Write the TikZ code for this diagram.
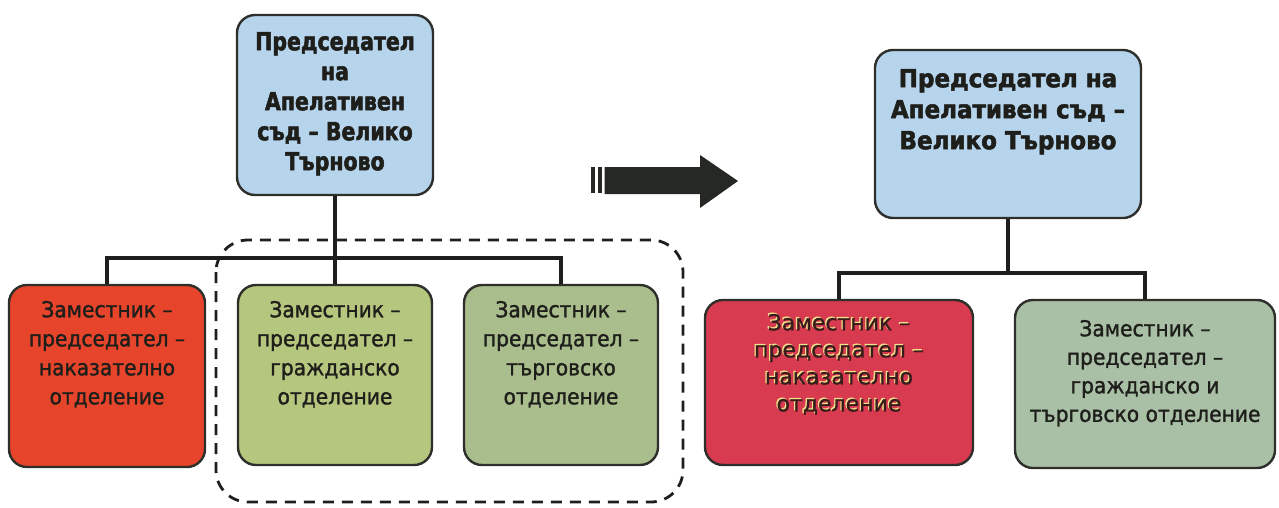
\documentclass[tikz,border=0pt]{standalone}
\usepackage{fontspec}
\setmainfont{DejaVu Sans}
\newfontfamily\topL[FakeStretch=0.82,FakeBold=2]{DejaVu Sans Bold}
\newfontfamily\topR[FakeStretch=0.92,FakeBold=2]{DejaVu Sans Bold}
\newfontfamily\kidL[FakeStretch=0.92,FakeBold=1.3]{DejaVu Sans}
\newfontfamily\kidR[FakeStretch=1.0,FakeBold=1.3]{DejaVu Sans}
\definecolor{boxline}{HTML}{2E2E2A}
\definecolor{connc}{HTML}{1E1F1C}
\definecolor{topblue}{HTML}{B6D4EC}
\definecolor{lred}{HTML}{E6452C}
\definecolor{lgreenA}{HTML}{B5C67E}
\definecolor{lgreenB}{HTML}{A9BE8C}
\definecolor{rred}{HTML}{D83A4F}
\definecolor{rgreen}{HTML}{A9C0A7}
\definecolor{arrowc}{HTML}{262823}
\definecolor{txtc}{HTML}{1E1E1A}
\definecolor{glowc}{HTML}{F2E08A}
\definecolor{redtxt}{HTML}{3A1C1C}
\begin{document}
\begin{tikzpicture}[x=1pt,y=-1pt,
  box/.style={draw=boxline, line width=2.4pt, rounded corners=18pt, inner sep=0pt},
  conn/.style={line width=4.5pt, draw=connc},
  toptxt/.style={font=\fontsize{25}{30}\topL, align=center, inner sep=0pt, anchor=north, text=txtc},
  toptxtR/.style={font=\fontsize{25}{31}\topR, align=center, inner sep=0pt, anchor=north, text=txtc},
  kidtxt/.style={font=\fontsize{22}{29}\kidL, align=center, inner sep=0pt, anchor=north, text=txtc},
  kidtxtR/.style={font=\fontsize{22}{28.5}\kidL, align=center, inner sep=0pt, anchor=north, text=txtc},
  redtxtS/.style={font=\fontsize{22}{27}\kidR, align=center, inner sep=0pt, anchor=north}]
\useasboundingbox (0,0) rectangle (1279,507);

% left chart
\node[box, fill=topblue, minimum width=196pt, minimum height=180pt] (lt) at (335,105) {};
\node[box, fill=lred, minimum width=196pt, minimum height=182pt] (lr) at (107,376) {};
\node[box, fill=lgreenA, minimum width=194pt, minimum height=180pt] (lga) at (335,375) {};
\node[box, fill=lgreenB, minimum width=194pt, minimum height=180pt] (lgb) at (561,375) {};

\node[toptxt] (ltt) at ([yshift=-18pt]lt.north) {Председател\\на\\Апелативен\\съд – Велико\\Търново};
\node[kidtxt] (lrt) at ([yshift=-17pt]lr.north) {Заместник –\\председател –\\наказателно\\отделение};
\node[kidtxt] (lgat) at ([yshift=-17pt]lga.north) {Заместник –\\председател –\\гражданско\\отделение};
\node[kidtxt] (lgbt) at ([yshift=-17pt]lgb.north) {Заместник –\\председател –\\търговско\\отделение};

\coordinate (lbus) at (335,258);
\draw[conn] (lt.south) -- (lbus);
\draw[conn] (lr.north) |- (lbus) -| (lgb.north);
\draw[conn] (lbus) -- (lga.north);

\draw[line width=2.8pt, draw=connc, dash pattern=on 11pt off 8pt, rounded corners=32pt]
  (216,240) rectangle (683,502);

% arrow
\fill[arrowc] (590.5,167) rectangle (595,193);
\fill[arrowc] (597.5,167) rectangle (602,193);
\fill[arrowc] (604.5,167) -- (700,167) -- (700,155) -- (738,181) -- (700,208) -- (700,194) -- (604.5,194) -- cycle;

% right chart
\node[box, fill=topblue, minimum width=266pt, minimum height=168pt] (rt) at (1008,134) {};
\node[box, fill=rred, minimum width=268pt, minimum height=165pt] (rr) at (839,382.5) {};
\node[box, fill=rgreen, minimum width=260pt, minimum height=168pt] (rg) at (1145,384) {};

\node[toptxtR] (rtt) at ([yshift=-20pt]rt.north) {Председател на\\Апелативен съд –\\Велико Търново};
\node[redtxtS, text=glowc] (rrg) at ([xshift=-1.3pt,yshift=-13.7pt]rr.north) {Заместник –\\председател –\\наказателно\\отделение};
\node[redtxtS, text=redtxt] (rrt) at ([yshift=-15pt]rr.north) {Заместник –\\председател –\\наказателно\\отделение};
\node[kidtxtR] (rgt) at ([yshift=-21pt]rg.north) {Заместник –\\председател –\\гражданско и\\търговско отделение};

\coordinate (rbus) at (1008,273);
\draw[conn] (rt.south) -- (rbus);
\draw[conn] (rr.north) |- (rbus) -| (rg.north);
\end{tikzpicture}
\end{document}
